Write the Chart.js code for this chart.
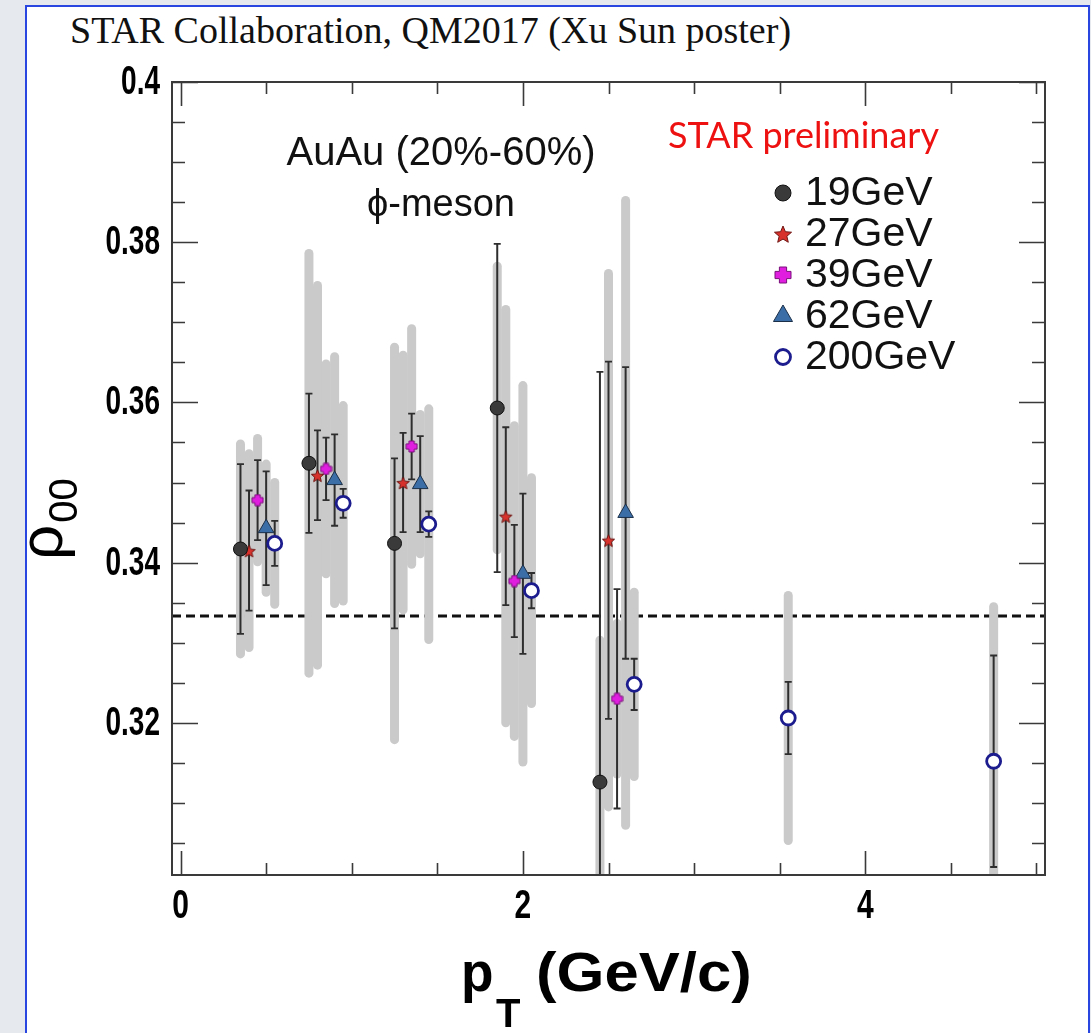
<!DOCTYPE html>
<html>
<head>
<meta charset="utf-8">
<title>rho00 vs pT, phi-meson</title>
<script src="https://cdn.jsdelivr.net/npm/chart.js@4.4.1/dist/chart.umd.min.js"></script>
<style>
html, body { margin: 0; padding: 0; width: 1091px; height: 1033px; overflow: hidden; background: #e6e9ee; }
#panel { position: absolute; left: 25px; top: 5px; width: 1061px; height: 1040px; background: #fff;
         border-left: 2px solid #2a46e0; border-top: 2px solid #2a46e0; border-right: 2px solid #2a46e0; }
#title { position: absolute; left: 70px; top: 11px; font-family: "Liberation Serif", serif; font-size: 38px;
         line-height: 38px; color: #111; white-space: nowrap; }
#chart { position: absolute; left: 0; top: 0; }
</style>
</head>
<body>
<div id="panel"></div>
<div id="title">STAR Collaboration, QM2017 (Xu Sun poster)</div>
<canvas id="chart" width="1091" height="1033"></canvas>
<script>
// rho00 of phi-meson vs pT, AuAu 20-60% (STAR preliminary)
// values; errors are symmetric (stat = black bars, sys = grey bands)

const PT_19  = [0.35, 0.75, 1.25, 1.85, 2.45];
const RHO_19 = [0.3417, 0.3524, 0.3424, 0.3593, 0.3126];
const STAT_19 = [0.0106, 0.0087, 0.0106, 0.0205, 0.0512];
const SYS_19  = [0.0131, 0.0262, 0.0245, 0.0177, 0.0177];

const PT_27  = [0.40, 0.80, 1.30, 1.90, 2.50];
const RHO_27 = [0.3415, 0.3509, 0.3500, 0.3458, 0.3428];
const STAT_27 = [0.0075, 0.0056, 0.0062, 0.0111, 0.0223];
const SYS_27  = [0.0121, 0.0237, 0.0159, 0.0258, 0.0333];

const PT_39  = [0.45, 0.85, 1.35, 1.95, 2.55];
const RHO_39 = [0.3478, 0.3517, 0.3545, 0.3377, 0.3230];
const STAT_39 = [0.0050, 0.0039, 0.0041, 0.0070, 0.0137];
const SYS_39  = [0.0077, 0.0131, 0.0147, 0.0194, 0.0094];

const PT_62  = [0.50, 0.90, 1.40, 2.00, 2.60];
const RHO_62 = [0.3443, 0.3503, 0.3498, 0.3386, 0.3462];
const STAT_62 = [0.0071, 0.0057, 0.0060, 0.0100, 0.0182];
const SYS_62  = [0.0080, 0.0154, 0.0087, 0.0235, 0.0390];

const PT_200  = [0.55, 0.95, 1.45, 2.05, 2.65, 3.55, 4.75];
const RHO_200 = [0.3424, 0.3474, 0.3448, 0.3365, 0.3248, 0.3206, 0.3152];
const STAT_200 = [0.0028, 0.0018, 0.0016, 0.0022, 0.0032, 0.0045, 0.0132];
const SYS_200  = [0.0076, 0.0122, 0.0144, 0.0141, 0.0115, 0.0153, 0.0193];

const RHO_REF = 1 / 3;

const X_RANGE = [-0.05, 5.05];
const Y_RANGE = [0.301, 0.4];
const X_MAJOR = [0, 2, 4];
const X_LABELS = ['0', '2', '4'];
const X_MINOR_STEP = 0.5;
const Y_MAJOR = [0.32, 0.34, 0.36, 0.38, 0.40];
const Y_LABELS = ['0.32', '0.34', '0.36', '0.38', '0.4'];
const Y_MINOR_STEP = 0.005;

const SYS_COLOR = '#cacaca';
const BAR_COLOR = '#2e2e2e';
const AXIS_COLOR = '#3a3a3a';

// ---- marker images (star and filled cross are not built-in point styles)
function starImage(size, fill, stroke) {
    const c = document.createElement('canvas');
    c.width = c.height = size;
    const g = c.getContext('2d');
    const m = size / 2, R = size / 2 - 1, r = R * 0.45;
    g.beginPath();
    for (let k = 0; k < 10; k++) {
        const a = -Math.PI / 2 + k * Math.PI / 5;
        const rr = k % 2 ? r : R;
        g.lineTo(m + rr * Math.cos(a), m + 1 + rr * Math.sin(a));
    }
    g.closePath();
    g.fillStyle = fill; g.fill();
    g.lineWidth = 1; g.strokeStyle = stroke; g.stroke();
    return c;
}
function plusImage(size, fill, stroke) {
    const c = document.createElement('canvas');
    c.width = c.height = size;
    const g = c.getContext('2d');
    const a = size * 0.2, lo = 1, hi = size - 1, m = size / 2;
    g.beginPath();
    g.moveTo(m - a, lo); g.lineTo(m + a, lo); g.lineTo(m + a, m - a); g.lineTo(hi, m - a);
    g.lineTo(hi, m + a); g.lineTo(m + a, m + a); g.lineTo(m + a, hi); g.lineTo(m - a, hi);
    g.lineTo(m - a, m + a); g.lineTo(lo, m + a); g.lineTo(lo, m - a); g.lineTo(m - a, m - a);
    g.closePath();
    g.fillStyle = fill; g.fill();
    g.lineWidth = 1; g.strokeStyle = stroke; g.stroke();
    return c;
}

const STAR_PT = starImage(15, '#d8322d', '#6e1512');
const STAR_LEG = starImage(20, '#d8322d', '#6e1512');
const PLUS_PT = plusImage(13, '#e01ee0', '#7a107a');
const PLUS_LEG = plusImage(18, '#e01ee0', '#7a107a');

function pts(xs, ys) { return xs.map((x, i) => ({ x: x, y: ys[i] })); }

const series = [
    { label: '19GeV',  data: pts(PT_19, RHO_19),   stat: STAT_19,  sys: SYS_19,
      pointStyle: 'circle', pointRadius: 7, backgroundColor: '#3a3a3a', borderColor: '#111', pointBorderWidth: 1,
      leg: { pointStyle: 'circle', radius: 8 } },
    { label: '27GeV',  data: pts(PT_27, RHO_27),   stat: STAT_27,  sys: SYS_27,
      pointStyle: STAR_PT, pointRadius: 7, backgroundColor: '#d8322d', borderColor: '#6e1512', pointBorderWidth: 1,
      leg: { pointStyle: STAR_LEG, radius: 10 } },
    { label: '39GeV',  data: pts(PT_39, RHO_39),   stat: STAT_39,  sys: SYS_39,
      pointStyle: PLUS_PT, pointRadius: 6.5, backgroundColor: '#e01ee0', borderColor: '#7a107a', pointBorderWidth: 1,
      leg: { pointStyle: PLUS_LEG, radius: 9 } },
    { label: '62GeV',  data: pts(PT_62, RHO_62),   stat: STAT_62,  sys: SYS_62,
      pointStyle: 'triangle', pointRadius: 9, backgroundColor: '#3b6ea6', borderColor: '#1b2f48', pointBorderWidth: 1,
      leg: { pointStyle: 'triangle', radius: 11 } },
    { label: '200GeV', data: pts(PT_200, RHO_200), stat: STAT_200, sys: SYS_200,
      pointStyle: 'circle', pointRadius: 7, backgroundColor: '#ffffff', borderColor: '#1c1c8e', pointBorderWidth: 2.8,
      leg: { pointStyle: 'circle', radius: 7.5 } }
];

function txt(ctx, s, x, y, font, align, base, color, sx) {
    ctx.save();
    ctx.font = font;
    ctx.fillStyle = color || '#000';
    ctx.textAlign = align || 'left';
    ctx.textBaseline = base || 'alphabetic';
    ctx.translate(x, y);
    ctx.scale(sx || 1, 1);
    ctx.fillText(s, 0, 0);
    ctx.restore();
}

// grey sys bands, stat bars, dashed reference line under the markers
const errorBars = {
    id: 'errorBars',
    beforeDatasetsDraw(chart) {
        const { ctx, chartArea: a, scales: { x, y } } = chart;
        ctx.save();
        ctx.beginPath();
        ctx.rect(a.left, a.top, a.right - a.left, a.bottom - a.top);
        ctx.clip();

        ctx.strokeStyle = '#111';
        ctx.lineWidth = 3;
        ctx.setLineDash([9, 5]);
        ctx.beginPath();
        ctx.moveTo(x.getPixelForValue(X_RANGE[0]), y.getPixelForValue(RHO_REF));
        ctx.lineTo(x.getPixelForValue(X_RANGE[1]), y.getPixelForValue(RHO_REF));
        ctx.stroke();
        ctx.setLineDash([]);

        ctx.strokeStyle = SYS_COLOR;
        ctx.lineWidth = 9;
        ctx.lineCap = 'round';
        chart.data.datasets.forEach(ds => {
            ds.data.forEach((p, i) => {
                const px = x.getPixelForValue(p.x);
                ctx.beginPath();
                ctx.moveTo(px, y.getPixelForValue(p.y + ds.sys[i]));
                ctx.lineTo(px, y.getPixelForValue(p.y - ds.sys[i]));
                ctx.stroke();
            });
        });

        ctx.strokeStyle = BAR_COLOR;
        ctx.lineCap = 'butt';
        chart.data.datasets.forEach(ds => {
            ds.data.forEach((p, i) => {
                const px = x.getPixelForValue(p.x);
                const hi = y.getPixelForValue(p.y + ds.stat[i]);
                const lo = y.getPixelForValue(p.y - ds.stat[i]);
                ctx.lineWidth = 2;
                ctx.beginPath();
                ctx.moveTo(px, hi); ctx.lineTo(px, lo);
                ctx.stroke();
                ctx.lineWidth = 1.8;
                ctx.beginPath();
                ctx.moveTo(px - 3.5, hi); ctx.lineTo(px + 3.5, hi);
                ctx.moveTo(px - 3.5, lo); ctx.lineTo(px + 3.5, lo);
                ctx.stroke();
            });
        });
        ctx.restore();
    }
};

// ROOT-like frame with inward ticks, labels, titles, in-pad texts and legend
const frame = {
    id: 'frame',
    afterDraw(chart) {
        const { ctx, chartArea: a, scales: { x, y } } = chart;
        ctx.save();
        ctx.strokeStyle = AXIS_COLOR;
        ctx.lineWidth = 1.6;

        ctx.beginPath();
        for (let k = 0; X_MAJOR[0] + k * X_MINOR_STEP <= X_RANGE[1]; k++) {
            const v = X_MAJOR[0] + k * X_MINOR_STEP;
            const major = X_MAJOR.includes(v);
            const len = major ? 24 : 12;
            const px = Math.round(x.getPixelForValue(v)) + 0.5;
            ctx.moveTo(px, a.bottom); ctx.lineTo(px, a.bottom - len);
            ctx.moveTo(px, a.top); ctx.lineTo(px, a.top + len);
        }
        for (let k = 0; Y_MAJOR[0] - k * Y_MINOR_STEP >= Y_RANGE[0]; k++) {
            const v = Y_MAJOR[0] - k * Y_MINOR_STEP;
            const py = Math.round(y.getPixelForValue(v)) + 0.5;
            const len = k === 0 ? 26 : 13;
            ctx.moveTo(a.left, py); ctx.lineTo(a.left + len, py);
            ctx.moveTo(a.right, py); ctx.lineTo(a.right - len, py);
        }
        for (let k = 1; Y_MAJOR[0] + k * Y_MINOR_STEP <= Y_RANGE[1] + 1e-9; k++) {
            const v = Y_MAJOR[0] + k * Y_MINOR_STEP;
            const py = Math.round(y.getPixelForValue(v)) + 0.5;
            const len = k % 4 === 0 ? 26 : 13;
            ctx.moveTo(a.left, py); ctx.lineTo(a.left + len, py);
            ctx.moveTo(a.right, py); ctx.lineTo(a.right - len, py);
        }
        ctx.stroke();

        ctx.lineWidth = 2;
        ctx.strokeRect(a.left, a.top, a.right - a.left, a.bottom - a.top);

        const tickFont = 'bold 40px "Liberation Sans", Arial, sans-serif';
        Y_MAJOR.forEach((v, i) => {
            txt(ctx, Y_LABELS[i], a.left - 12, y.getPixelForValue(v) + 1, tickFont, 'right', 'middle', '#000', 0.7);
        });
        X_MAJOR.forEach((v, i) => {
            txt(ctx, X_LABELS[i], x.getPixelForValue(v), a.bottom + 12, tickFont, 'center', 'top', '#000', 0.75);
        });

        // x title
        const xt = 'bold 56px "Liberation Sans", Arial, sans-serif';
        txt(ctx, 'p', 461, 991, xt, 'left', 'alphabetic', '#000', 0.95);
        txt(ctx, 'T', 496, 1027, 'bold 40px "Liberation Sans", Arial, sans-serif', 'left', 'alphabetic', '#000', 1);
        txt(ctx, '(GeV/c)', 536, 991, xt, 'left', 'alphabetic', '#000', 1.1);

        // y title, rotated
        ctx.save();
        ctx.translate(62, 560);
        ctx.rotate(-Math.PI / 2);
        ctx.fillStyle = '#000';
        ctx.textBaseline = 'alphabetic';
        ctx.font = '62px "Liberation Sans", Arial, sans-serif';
        ctx.fillText('\u03c1', 0, 0);
        const w = ctx.measureText('\u03c1').width;
        ctx.font = '40px "Liberation Sans", Arial, sans-serif';
        ctx.fillText('00', w + 2, 15);
        ctx.restore();

        // in-pad texts
        txt(ctx, 'AuAu (20%-60%)', 441, 154, '40px "Liberation Sans", Arial, sans-serif', 'center', 'middle', '#111', 1);
        txt(ctx, '\u03d5-meson', 441, 206, '38px "Liberation Sans", Arial, sans-serif', 'center', 'middle', '#111', 1);
        txt(ctx, 'STAR preliminary', 668, 136, '36px Lato, "Open Sans", sans-serif', 'left', 'middle', '#ee1111', 1);

        // legend
        const legFont = '41px "Liberation Sans", Arial, sans-serif';
        chart.data.datasets.forEach((ds, i) => {
            const ly = 193 + i * 41;
            ctx.save();
            ctx.fillStyle = ds.backgroundColor;
            ctx.strokeStyle = ds.borderColor;
            ctx.lineWidth = ds.pointBorderWidth;
            Chart.helpers.drawPoint(ctx, { pointStyle: ds.leg.pointStyle, radius: ds.leg.radius, rotation: 0, borderWidth: ds.pointBorderWidth }, 783, ly);
            ctx.restore();
            txt(ctx, ds.label, 805, ly + 1, legFont, 'left', 'middle', '#111', 1);
        });
        ctx.restore();
    }
};

new Chart(document.getElementById('chart').getContext('2d'), {
    type: 'scatter',
    data: { datasets: series },
    options: {
        responsive: false,
        animation: false,
        devicePixelRatio: 1,
        layout: { padding: { left: 172, right: 46, top: 82, bottom: 158 } },
        plugins: { legend: { display: false }, tooltip: { enabled: false } },
        scales: {
            x: { type: 'linear', display: false, min: X_RANGE[0], max: X_RANGE[1] },
            y: { type: 'linear', display: false, min: Y_RANGE[0], max: Y_RANGE[1] }
        }
    },
    plugins: [errorBars, frame]
});
</script>
</body>
</html>
